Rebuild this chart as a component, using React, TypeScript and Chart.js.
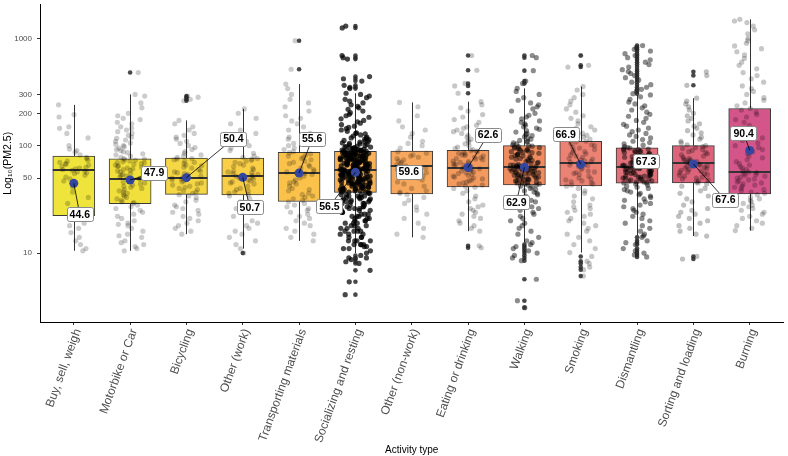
import React, { useEffect, useRef } from "react";
import { Chart, registerables } from "chart.js";
Chart.register(...registerables);

const categories = [
  "Buy, sell, weigh", "Motorbike or Car", "Bicycling", "Other (work)", "Transporting materials",
  "Socializing and resting", "Other (non-work)", "Eating or drinking", "Walking", "Smoking",
  "Dismantling", "Sorting and loading", "Burning",
];
const q1 = [22.3, 28.9, 35.2, 34.7, 30.2, 36.7, 35.5, 41.4, 43, 42.3, 44.7, 45, 35.5];
const medians = [59, 49.4, 50.5, 52.6, 56.1, 59.8, 65, 61.5, 63, 68.4, 63.3, 68.4, 56.9];
const q3 = [80, 75.4, 76.5, 76.5, 86.8, 88.7, 89.2, 90.6, 100, 110, 95.3, 100, 222];
const whiskerLow = [10.5, 10.5, 15, 11, 13, 10, 14, 16, 12.5, 10.1, 14.5, 14.4, 16.2];
const whiskerHigh = [240, 300, 172, 220, 375, 308, 253, 257, 342, 355, 297, 277, 1503];
const means = [44.6, 47.9, 50.4, 50.7, 55.6, 56.5, 59.6, 62.6, 62.9, 66.9, 67.3, 67.6, 90.4];
const yTicks = [10, 50, 100, 200, 300, 1000];

const valsBuy = [240, 195, 185, 150, 145, 130, 118, 100, 93, 90, 87, 82, 78, 76, 73, 72, 70, 68, 67, 66, 64, 63, 62, 61, 60, 59, 58, 57, 56, 55, 53, 51, 49, 47, 45, 41, 37, 33, 29, 25, 23, 22, 21, 19, 18, 17, 15.5, 14, 13, 12, 11, 10.5];
const valsMotor = [480, 300, 290, 250, 225, 200, 190, 180, 175, 165, 160, 150, 145, 140, 135, 130, 125, 120, 117, 113, 110, 106, 103, 100, 98, 95, 92, 90, 88, 86, 84, 82, 80, 78, 76, 75, 74, 73, 72, 71, 70, 69, 68, 67, 66, 65, 64, 63, 62, 61, 60, 59, 58, 57, 56, 55, 54, 53, 52, 51, 50, 49, 48, 47, 46, 45, 44, 43, 42, 41, 40, 39, 38, 37, 36, 35, 34, 33, 32, 31, 30, 29.5, 29, 28, 27, 26, 25, 24, 23, 22, 21, 20, 19, 18.5, 18, 17, 16, 15, 14.5, 14, 13, 12.5, 12, 11.5, 11, 10.5];
const valsBike = [290, 283, 270, 262, 172, 160, 150, 140, 130, 125, 120, 115, 110, 105, 100, 96, 92, 88, 85, 82, 80, 78, 76, 75, 74, 72, 70, 68, 66, 65, 63, 62, 60, 58, 57, 56, 55, 54, 52, 51, 50, 49, 48, 47, 46, 45, 44, 43, 42, 41, 40, 39, 38, 37, 36, 35, 34, 33, 31, 30, 28, 27, 26, 25, 24, 23, 22, 21, 20, 19, 18, 17, 16, 15];
const valsOtherWork = [220, 200, 180, 160, 140, 130, 120, 110, 100, 95, 90, 85, 80, 78, 76, 75, 73, 72, 70, 68, 66, 64, 62, 60, 58, 57, 56, 55, 54, 53, 52, 51, 50, 49, 48, 47, 46, 45, 44, 42, 40, 39, 38, 37, 36, 35, 34, 32, 30, 28, 26, 24, 22, 20, 19, 18, 17, 16, 15, 14, 13, 12, 11, 10];
const valsTransport = [950, 515, 375, 340, 300, 270, 250, 230, 210, 190, 180, 170, 160, 150, 140, 130, 125, 120, 115, 110, 105, 100, 95, 92, 88, 86, 84, 82, 80, 78, 76, 74, 72, 70, 68, 66, 64, 62, 60, 58, 57, 56, 55, 54, 52, 50, 48, 46, 45, 44, 42, 40, 39, 38, 36, 35, 34, 33, 32, 31, 30, 29, 28, 27, 26, 25, 24, 23, 22, 21, 20, 19, 18, 17, 16, 15, 14, 13];
const valsSocial = [1300, 1250, 690, 660, 640, 440, 420, 400, 365, 350, 340,
  308, 300, 290, 280, 270, 260, 250, 240, 232, 225, 218, 210, 203, 196, 190, 184, 178, 172, 167, 162, 157, 152, 148, 144, 140, 136, 132, 129, 126, 123, 120, 117, 114, 112, 110, 108, 106, 104, 102, 100, 98, 97, 96, 95, 94, 93, 92, 91, 90, 89,
  88, 87, 86, 86, 85, 84, 83, 83, 82, 81, 80, 80, 79, 78, 78, 77, 76, 75, 75, 74, 73, 73, 72, 71, 71, 70, 69, 69, 68, 68, 67, 66, 66, 65, 65, 64, 63, 63, 62, 62, 61, 61, 60, 60, 59, 59, 58, 58, 57, 57, 56, 56, 55, 55, 54, 54, 53, 53, 52, 52, 51, 51, 50, 50, 49, 49, 48, 48, 47, 47, 46, 46, 45, 45, 44, 44, 43, 43, 42, 42, 41, 41, 40, 40, 39, 39, 38, 38, 37, 37,
  36, 35, 35, 34, 33, 33, 32, 31, 31, 30, 29, 29, 28, 27, 27, 26, 25, 25, 24, 23, 23, 22, 21, 21, 20, 19, 19, 18, 17, 17, 16, 16, 15, 15, 14, 14, 13, 13, 13, 12, 12, 12, 11.5, 11.5, 11, 11, 10.5, 10,
  115, 109, 103, 99, 95, 93, 91, 90, 88, 87, 85, 84, 82, 81, 79, 78, 77, 76, 74, 73, 72, 70, 69, 68, 67, 66, 65, 64, 63, 62, 61, 60, 59, 58, 57, 56, 55, 54, 53, 52, 51, 50, 49, 48, 47, 46, 45, 44, 43, 42, 41, 40, 39, 38, 37, 36, 35, 34, 33, 32, 31, 30, 29, 28, 27, 26, 25, 24, 23, 22, 21, 20, 19, 18, 17, 16, 15,
  130, 118, 105, 97, 92, 89, 86, 83, 80, 77, 75, 71, 68, 66, 63, 61, 58, 56, 53, 51, 48, 46, 44, 41, 39, 37, 34, 32, 30, 28, 26, 24, 22, 20, 18, 16, 14, 13, 12,
  9.5, 9, 9, 8.7, 8.3, 8, 6.9, 5.4, 4.1];
const valsOtherNon = [253, 230, 190, 170, 150, 140, 130, 120, 110, 105, 100, 95, 88, 85, 82, 80, 78, 76, 74, 72, 70, 68, 66, 65, 64, 62, 60, 58, 56, 54, 52, 50, 48, 46, 44, 42, 40, 38, 37, 36, 35, 33, 31, 29, 27, 25, 23, 21, 19, 17, 15, 14];
const valsEating = [692, 504, 380, 360, 308, 257, 240, 225, 210, 195, 185, 175, 165, 155, 150, 145, 140, 135, 130, 125, 120, 115, 112, 108, 104, 100, 97, 94, 92, 90, 89, 88, 86, 85, 84, 82, 81, 80, 78, 77, 76, 75, 74, 72, 71, 70, 69, 68, 67, 66, 65, 64, 63, 62, 61, 60, 59, 58, 57, 56, 55, 54, 53, 52, 51, 50, 49, 48, 47, 46, 45, 44, 43, 42, 41, 40, 38, 36, 34, 32, 30, 28, 27, 26, 25, 24, 23, 22, 21, 20, 19, 18, 17, 16, 11.7, 11.2];
const valsWalking = [692, 660, 500, 400, 380, 342, 320, 300, 280, 265, 250, 240, 230, 220, 210, 200, 192, 185, 178, 170, 165, 160, 155, 150, 146, 142, 138, 134, 130, 127, 124, 121, 118, 115, 112, 110, 108, 106, 104, 102, 100,
  99, 98, 97, 96, 95, 94, 93, 92, 91, 90, 89, 88, 87, 86, 85, 84, 83, 82, 81, 80, 79, 78, 77, 76, 75, 74, 73, 72, 71, 70, 69, 68, 67, 66, 66, 65, 65, 64, 64, 63, 63, 62, 62, 61, 61, 60, 60, 59, 59, 58, 58, 57, 57, 56, 56, 55, 55, 54, 54, 53, 53, 52, 52, 51, 51, 50, 50, 49, 49, 48, 48, 47, 47, 46, 46, 45, 45, 44, 44, 43, 43,
  42, 41, 40, 39, 38, 37, 36, 35, 34, 33, 32, 31, 30, 29, 28, 27, 26, 25, 24, 23, 22, 21, 20, 19, 18, 17, 16, 15, 14, 13, 12.5,
  12, 11.5, 11, 10.5, 10, 9.5, 9, 8.5, 5.7, 3.6, 3.1];
const valsSmoking = [692, 560, 540, 355, 330, 300, 280, 260, 240, 220, 205, 190, 180, 170, 160, 150, 145, 140, 135, 130, 125, 120, 115, 110, 108, 105, 102, 100, 97, 95, 92, 90, 88, 86, 84, 82, 80, 78, 76, 75, 74, 72, 71, 70, 69, 68, 67, 66, 65, 64, 62, 60, 58, 57, 56, 55, 54, 52, 50, 49, 48, 47, 46, 45, 44, 43, 42, 40, 38, 36, 34, 32, 30, 28, 27, 26, 25, 24, 23, 22, 21, 20, 19, 18, 17, 16, 15, 14, 13, 12, 11, 10.1, 9.3, 8.4, 8.0, 7.4, 7.0, 6.1];
const valsDismantling = [855, 820, 790, 760, 720, 690, 660, 630, 600, 570, 540, 510, 490, 470, 450, 430, 410, 390, 370, 350, 335, 320, 305,
  297, 285, 270, 255, 245, 235, 225, 215, 205, 196, 188, 180, 172, 165, 158, 152, 146, 140, 135, 130, 126, 122, 118, 114, 110, 107, 104, 101, 98, 96,
  95, 94, 93, 92, 91, 90, 89, 88, 87, 86, 85, 84, 83, 82, 81, 80, 79, 78, 77, 76, 75, 74, 73, 72, 71, 70, 69, 68, 67, 66, 66, 65, 65, 64, 64, 63, 63, 62, 62, 61, 61, 60, 60, 59, 59, 58, 58, 57, 57, 56, 56, 55, 55, 54, 54, 53, 53, 52, 52, 51, 51, 50, 50, 49, 49, 48, 48, 47, 47, 46, 46, 45, 45,
  44, 43, 42, 41, 40, 39, 38, 37, 36, 35, 34, 33, 32, 31, 30, 29, 28, 27, 26, 25, 24, 23, 22, 21, 20, 19, 18, 17, 16, 15, 14.5,
  14, 13, 12.5, 12, 11, 10.5, 10, 9.6, 9.2];
const valsSorting = [487, 450, 365, 277, 260, 245, 230, 215, 200, 190, 180, 170, 160, 152, 145, 138, 132, 126, 120, 115, 110, 106, 102, 100, 98, 96, 94, 92, 90, 88, 86, 84, 82, 80, 78, 76, 75, 74, 73, 72, 71, 70, 69, 68, 67, 66, 65, 64, 63, 62, 61, 60, 59, 58, 57, 56, 55, 54, 53, 52, 51, 50, 49, 48, 47, 46, 45, 44, 42, 40, 38, 36, 34, 32, 30, 28, 26, 25, 24, 23, 22, 21, 20, 19, 18, 17, 16, 15, 14.4, 9.3, 8.8];
const valsBurning = [1503, 1450, 1400, 1300, 1200, 1100, 1000, 950, 900, 850, 800, 750, 700, 650, 600, 560, 520, 480, 450, 420, 390, 360, 340, 320, 300, 280, 265, 250, 235, 222, 215, 205, 195, 185, 175, 165, 155, 145, 138, 130, 124, 118, 112, 106, 100, 96, 92, 88, 84, 80, 77, 74, 71, 68, 66, 64, 62, 60, 58, 57, 56, 55, 54, 53, 52, 51, 50, 49, 48, 47, 46, 45, 44, 43, 42, 41, 40, 39, 38, 37, 36, 35, 34, 33, 32, 31, 30, 29, 28, 27, 26, 25, 24, 23, 22, 21, 20, 19, 18, 17, 16.2];

const pointValues = [valsBuy, valsMotor, valsBike, valsOtherWork, valsTransport, valsSocial, valsOtherNon, valsEating, valsWalking, valsSmoking, valsDismantling, valsSorting, valsBurning];

// styles / layout (not data)
const boxColors = ["#EFE43C", "#F1DF3B", "#F5D745", "#F9CF47", "#FAC24B", "#F9B356", "#F7A85C", "#F39A5F", "#EF8B5F", "#EC8274", "#E2707A", "#DC637A", "#D45589"];
const pointAlpha = [0.2, 0.2, 0.2, 0.2, 0.2, 0.72, 0.2, 0.22, 0.45, 0.22, 0.45, 0.25, 0.22];
const labelOffsets = [[6, 31], [24, -7], [47, -39], [7, 30], [13, -34], [-26, 34], [-3, 2], [20, -33], [-8, 35], [-15, -30], [9, -3], [32, 36], [-6, -17]];

const FONT = "'Liberation Sans', Arial, Helvetica, sans-serif";
// deterministic horizontal jitter (layout only): integer hash of point index and category
const jitter = (i: number, c: number) => {
  let h = (i * 374761393 + c * 668265263) >>> 0;
  h = Math.imul(h ^ (h >>> 13), 1274126177) >>> 0;
  h = (h ^ (h >>> 16)) >>> 0;
  return (h / 4294967296 - 0.5) * 0.54;
};

const boxExtras = {
  id: "boxExtras",
  beforeDatasetsDraw(chart: any) {
    const { ctx, scales } = chart;
    const x = scales.x, y = scales.y;
    ctx.save();
    ctx.strokeStyle = "#333333";
    ctx.lineWidth = 1;
    categories.forEach((_, i) => {
      const px = Math.round(x.getPixelForValue(i + 1)) + 0.5;
      ctx.beginPath();
      ctx.moveTo(px, y.getPixelForValue(whiskerHigh[i]));
      ctx.lineTo(px, y.getPixelForValue(q3[i]));
      ctx.moveTo(px, y.getPixelForValue(q1[i]));
      ctx.lineTo(px, y.getPixelForValue(whiskerLow[i]));
      ctx.stroke();
    });
    ctx.restore();
  },
  afterDatasetDraw(chart: any, args: any) {
    if (args.index !== 0) return;
    const { ctx, scales } = chart;
    const y = scales.y;
    const meta = chart.getDatasetMeta(0);
    ctx.save();
    ctx.strokeStyle = "#333333";
    ctx.lineWidth = 2;
    meta.data.forEach((bar: any, i: number) => {
      const half = bar.width / 2;
      const py = Math.round(y.getPixelForValue(medians[i]));
      ctx.beginPath();
      ctx.moveTo(bar.x - half, py);
      ctx.lineTo(bar.x + half, py);
      ctx.stroke();
    });
    ctx.restore();
  },
  afterDatasetsDraw(chart: any) {
    const { ctx, scales } = chart;
    const x = scales.x, y = scales.y;
    ctx.save();
    ctx.font = `bold 10.5px ${FONT}`;
    ctx.textAlign = "center";
    ctx.textBaseline = "middle";
    means.forEach((m, i) => {
      const mx = x.getPixelForValue(i + 1);
      const my = y.getPixelForValue(m);
      const lx = mx + labelOffsets[i][0];
      const ly = my + labelOffsets[i][1];
      ctx.strokeStyle = "#000";
      ctx.lineWidth = 0.8;
      ctx.beginPath();
      ctx.moveTo(mx, my);
      ctx.lineTo(lx, ly);
      ctx.stroke();
      const text = m.toFixed(1);
      const w = ctx.measureText(text).width + 6;
      const h = 14;
      ctx.beginPath();
      ctx.roundRect(Math.round(lx - w / 2) + 0.5, Math.round(ly - h / 2) + 0.5, Math.round(w), h, 2);
      ctx.fillStyle = "#fff";
      ctx.fill();
      ctx.strokeStyle = "#8a8a8a";
      ctx.lineWidth = 1;
      ctx.stroke();
      ctx.fillStyle = "#000";
      ctx.fillText(text, lx, ly + 0.5);
    });
    ctx.restore();
  },
};

export default function App() {
  const canvasRef = useRef<HTMLCanvasElement | null>(null);
  useEffect(() => {
    document.body.style.margin = "0";
    const canvas = canvasRef.current;
    if (!canvas) return;

    const boxData = categories.map((_, i) => ({ x: i + 1, y: [q1[i], q3[i]] }));
    const jitterData: any[] = [];
    const outlierData: any[] = [];
    pointValues.forEach((vals, ci) => {
      vals.forEach((v, i) => {
        jitterData.push({ x: ci + 1 + jitter(i, ci), y: v, c: ci });
        if (v > whiskerHigh[ci] || v < whiskerLow[ci]) outlierData.push({ x: ci + 1, y: v });
      });
    });
    const meanData = means.map((m, i) => ({ x: i + 1, y: m }));

    const chart = new Chart(canvas, {
      type: "bar",
      data: {
        datasets: [
          {
            type: "bar",
            data: boxData as any,
            backgroundColor: boxColors,
            borderColor: "#3a3a3a",
            borderWidth: 1,
            borderSkipped: false,
            barThickness: 42,
            order: 4,
          } as any,
          {
            type: "scatter",
            data: jitterData,
            pointRadius: 2.6,
            pointBorderWidth: 0,
            backgroundColor: (ctx: any) => `rgba(0,0,0,${pointAlpha[ctx.raw ? ctx.raw.c : 0]})`,
            borderColor: "rgba(0,0,0,0)",
            order: 3,
          } as any,
          {
            type: "scatter",
            data: outlierData,
            pointRadius: 2.3,
            pointBorderWidth: 0,
            backgroundColor: "rgba(40,40,40,0.85)",
            borderColor: "rgba(0,0,0,0)",
            order: 2,
          } as any,
          {
            type: "scatter",
            data: meanData,
            pointRadius: 4.5,
            pointBorderWidth: 0,
            backgroundColor: "#3447A0",
            borderColor: "#3447A0",
            order: 1,
          } as any,
        ],
      },
      options: {
        responsive: false,
        animation: false,
        events: [],
        layout: { padding: { left: 0, right: 1, top: 0, bottom: 0 } },
        plugins: { legend: { display: false }, tooltip: { enabled: false } },
        scales: {
          x: {
            type: "linear",
            min: 0.4,
            max: 13.6,
            offset: false,
            afterBuildTicks: (s: any) => {
              s.ticks = categories.map((_, i) => ({ value: i + 1 }));
            },
            afterFit: (s: any) => {
              s.height = 134;
              s.paddingLeft = 0;
              s.paddingRight = 0;
              s.paddingTop = 0;
              s.paddingBottom = 0;
            },
            ticks: {
              autoSkip: false,
              minRotation: 70,
              maxRotation: 70,
              color: "#4d4d4d",
              padding: 2,
              labelOffset: 4,
              font: { family: FONT, size: 12 },
              callback: (_v: any, idx: number) => categories[idx],
            },
            grid: { display: true, offset: false, drawOnChartArea: false, drawTicks: true, tickLength: 3, color: "#333" },
            border: { display: true, color: "#000", width: 1 },
            title: {
              display: true,
              text: "Activity type",
              color: "#000",
              font: { family: FONT, size: 10 },
              padding: { top: 0, bottom: 0 },
            },
          } as any,
          y: {
            type: "logarithmic",
            min: 2.28,
            max: 2065,
            bounds: "data",
            afterBuildTicks: (s: any) => {
              s.ticks = yTicks.map((v) => ({ value: v }));
            },
            afterFit: (s: any) => {
              s.width = 40;
              s.paddingTop = 0;
              s.paddingBottom = 0;
              s.paddingLeft = 0;
              s.paddingRight = 0;
            },
            ticks: {
              color: "#4d4d4d",
              padding: 5,
              font: { family: FONT, size: 8 },
              callback: (v: any) => String(v),
            },
            grid: { display: true, offset: false, drawOnChartArea: false, drawTicks: true, tickLength: 3, color: "#333" },
            border: { display: true, color: "#000", width: 1 },
            title: {
              display: true,
              text: "Log₁₀(PM2.5)",
              color: "#000",
              font: { family: FONT, size: 10.5 },
              padding: { top: 2, bottom: 0 },
            },
          } as any,
        },
      } as any,
      plugins: [boxExtras],
    });
    return () => chart.destroy();
  }, []);

  return (
    <div style={{ width: 788, height: 456, position: "relative" }}>
      <canvas ref={canvasRef} width={788} height={456} style={{ width: 788, height: 456, display: "block" }} />
    </div>
  );
}
